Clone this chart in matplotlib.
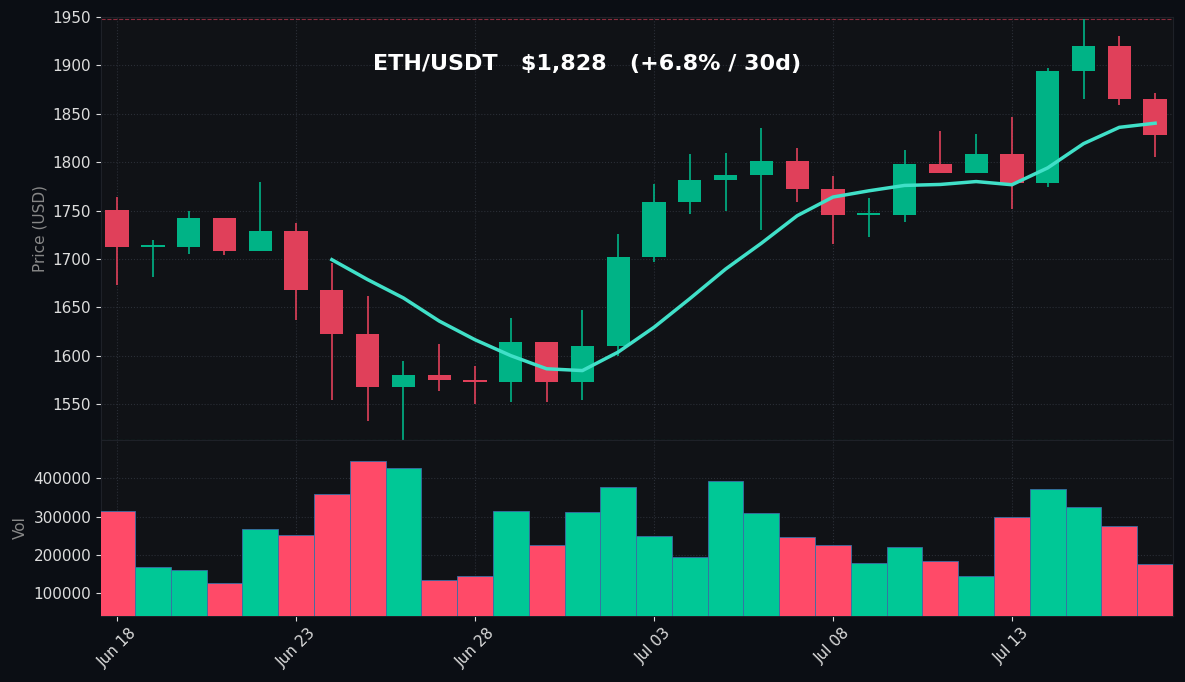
import matplotlib
matplotlib.use("Agg")
import matplotlib.pyplot as plt
import numpy as np
import pandas as pd

dates = pd.date_range("2023-06-18", periods=30, freq="D")
opens = [1751, 1712, 1712, 1742, 1708, 1729, 1668, 1623, 1568, 1580,
         1575, 1573, 1614, 1573, 1610, 1702, 1759, 1782, 1787, 1801,
         1772, 1745, 1745, 1798, 1789, 1808, 1778, 1894, 1920, 1865]
closes = [1712, 1713, 1742, 1708, 1729, 1668, 1623, 1568, 1580, 1575,
          1573, 1614, 1573, 1610, 1702, 1759, 1782, 1787, 1801, 1772,
          1745, 1747, 1798, 1789, 1808, 1778, 1894, 1920, 1865, 1828]
highs = [1764, 1720, 1750, 1742, 1780, 1737, 1696, 1662, 1595, 1612,
         1589, 1639, 1614, 1647, 1726, 1777, 1808, 1809, 1835, 1815,
         1786, 1763, 1813, 1832, 1829, 1847, 1897, 1948, 1930, 1872]
lows = [1673, 1681, 1705, 1704, 1708, 1637, 1554, 1533, 1513, 1564,
        1550, 1552, 1552, 1554, 1600, 1697, 1746, 1750, 1730, 1759,
        1715, 1723, 1738, 1789, 1789, 1752, 1774, 1865, 1859, 1805]
volumes = [314000, 168000, 160000, 126000, 267000, 251000, 358000, 444000, 426000, 134000,
           144000, 314000, 225000, 311000, 377000, 249000, 194000, 392000, 309000, 246000,
           225000, 178000, 220000, 183000, 144000, 298000, 371000, 324000, 275000, 176000]

BG = "#0b0e14"
AX = "#101216"
UP, DN = "#00b386", "#e0405a"
VUP, VDN = "#00c896", "#ff4a68"

x = np.arange(len(dates))
o, c = np.array(opens), np.array(closes)
up = c >= o
ma = pd.Series(closes).rolling(7).mean()

fig = plt.figure(figsize=(11.85, 6.82), dpi=100, facecolor=BG)
ax = fig.add_axes([101/1185, 1-440/682, 1072/1185, 423/682], facecolor=AX)
axv = fig.add_axes([101/1185, 1-616/682, 1072/1185, 176/682], facecolor=AX, sharex=ax)

cols = [UP if u else DN for u in up]
ax.vlines(x, lows, highs, color=cols, lw=1.2, zorder=2)
body = np.maximum(np.abs(c - o), 2)
ax.bar(x, body, bottom=np.minimum(o, c), width=0.65, color=cols, zorder=3)
ax.plot(x, ma, color="#40e0c8", lw=2.5, zorder=4)
ax.axhline(max(highs), color=DN, ls="--", lw=0.8, alpha=0.6)
ax.axhline(min(lows), color=UP, ls="--", lw=0.8, alpha=0.6)
ax.set_ylim(min(lows), max(highs) + 2)
ax.set_xlim(-0.45, 29.5)
ax.set_ylabel("Price (USD)", color="#888888", fontsize=11)
ax.text(0.453, 0.89, "ETH/USDT   $1,828   (+6.8% / 30d)", transform=ax.transAxes,
        ha="center", va="center", color="white", fontsize=16, fontweight="bold")

axv.bar(x, volumes, width=1.0, color=[VUP if u else VDN for u in up],
        edgecolor="#3a6ea5", linewidth=0.6, zorder=3)
axv.set_ylim(40000, 500000)
axv.set_yticks([100000, 200000, 300000, 400000])
axv.set_ylabel("Vol", color="#888888", fontsize=11)

ticks = x[::5]
axv.set_xticks(ticks)
axv.set_xticklabels([d.strftime("%b %d") for d in dates[::5]], rotation=45)
plt.setp(ax.get_xticklabels(), visible=False)

for a in (ax, axv):
    a.grid(True, color="#2a2e36", ls=":", lw=0.8, zorder=0)
    a.tick_params(colors="#dddddd", labelsize=11)
    for s in a.spines.values():
        s.set_color("#1e2128")

fig.savefig("out.png", dpi=100, facecolor=BG)
